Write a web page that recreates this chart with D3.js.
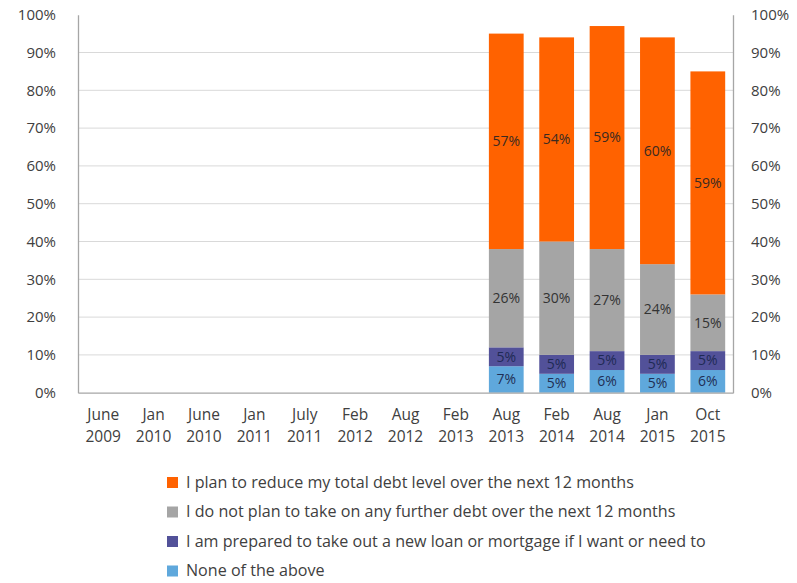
<!DOCTYPE html>
<html>
<head>
<meta charset="utf-8">
<script src="https://cdn.jsdelivr.net/npm/d3@7"></script>
<style>
  html, body { margin: 0; padding: 0; background: #fff; }
  svg text { font-family: "Open Sans", "Noto Sans", sans-serif; }
</style>
</head>
<body>
<svg id="chart" width="797" height="583"></svg>
<script>
// Survey waves (two-line axis labels)
const periods = [
  ["June", "2009"], ["Jan", "2010"], ["June", "2010"], ["Jan", "2011"],
  ["July", "2011"], ["Feb", "2012"], ["Aug", "2012"], ["Feb", "2013"],
  ["Aug", "2013"], ["Feb", "2014"], ["Aug", "2014"], ["Jan", "2015"], ["Oct", "2015"]
];

// Share of respondents (%) per answer; null where the wave has no data
const noneOfAbove   = [null, null, null, null, null, null, null, null, 7, 5, 6, 5, 6];
const preparedLoan  = [null, null, null, null, null, null, null, null, 5, 5, 5, 5, 5];
const noFurtherDebt = [null, null, null, null, null, null, null, null, 26, 30, 27, 24, 15];
const reduceDebt    = [null, null, null, null, null, null, null, null, 57, 54, 59, 60, 59];

const seriesNames = [
  "None of the above",
  "I am prepared to take out a new loan or mortgage if I want or need to",
  "I do not plan to take on any further debt over the next 12 months",
  "I plan to reduce my total debt level over the next 12 months"
];
const seriesColors = ["#5fa8dc", "#525199", "#a5a5a5", "#ff6200"];
const labelColors = ["#1f2f55", "#1f2a55", "#333333", "#3a2a20"];
const yTicks = [0, 10, 20, 30, 40, 50, 60, 70, 80, 90, 100];

const seriesValues = [noneOfAbove, preparedLoan, noFurtherDebt, reduceDebt];
const keys = seriesNames;
const rows = periods.map((p, i) => {
  const r = { key: p.join(" ") };
  keys.forEach((k, s) => { r[k] = seriesValues[s][i] || 0; });
  r.has = seriesValues[0][i] !== null;
  return r;
});

const svg = d3.select("#chart");
const plotLeft = 78, plotRight = 733, plotTop = 14.7, plotBottom = 392.7;

const x = d3.scaleBand().domain(rows.map(r => r.key)).range([plotLeft, plotRight]).paddingInner(0.31).paddingOuter(0.155);
const y = d3.scaleLinear().domain([0, 100]).range([plotBottom, plotTop]);

// gridlines
svg.append("g").selectAll("line").data(yTicks.filter(t => t > 0 && t < 100)).join("line")
  .attr("x1", plotLeft).attr("x2", plotRight)
  .attr("y1", d => y(d)).attr("y2", d => y(d))
  .attr("stroke", "#d9d9d9").attr("stroke-width", 1);

// stacked bars
const stacked = d3.stack().keys(keys)(rows);
const layers = svg.append("g").selectAll("g").data(stacked).join("g")
  .attr("fill", (d, i) => seriesColors[i]);
layers.selectAll("rect").data(d => d.filter(v => v.data.has)).join("rect")
  .attr("x", d => x(d.data.key))
  .attr("width", x.bandwidth())
  .attr("y", d => y(d[1]))
  .attr("height", d => y(d[0]) - y(d[1]));

// value labels
stacked.forEach((layer, i) => {
  svg.append("g").selectAll("text").data(layer.filter(v => v.data.has)).join("text")
    .attr("x", d => x(d.data.key) + x.bandwidth() / 2)
    .attr("y", d => (y(d[0]) + y(d[1])) / 2)
    .attr("dy", "0.35em")
    .attr("text-anchor", "middle")
    .attr("font-size", 14)
    .attr("fill", labelColors[i])
    .text(d => (d[1] - d[0]) + "%");
});

// axes
const fmt = d => d + "%";
const yl = svg.append("g").attr("transform", `translate(${plotLeft},0)`)
  .call(d3.axisLeft(y).tickValues(yTicks).tickFormat(fmt).tickSize(0).tickPadding(22));
const yr = svg.append("g").attr("transform", `translate(${plotRight},0)`)
  .call(d3.axisRight(y).tickValues(yTicks).tickFormat(fmt).tickSize(0).tickPadding(18));
[yl, yr].forEach(g => {
  g.select(".domain").attr("stroke", "#a6a6a6").attr("stroke-width", 1.3);
  g.selectAll("text").attr("font-size", 15).attr("fill", "#404040")
    .attr("font-family", "'Open Sans', 'Noto Sans', sans-serif");
});

const xa = svg.append("g").attr("transform", `translate(0,${plotBottom})`)
  .call(d3.axisBottom(x).tickSize(0).tickFormat(""));
xa.select(".domain").attr("stroke", "#a6a6a6").attr("stroke-width", 1.3);
xa.selectAll(".tick").each(function(d, i) {
  const t = d3.select(this).append("text")
    .attr("text-anchor", "middle").attr("font-size", 15.5).attr("fill", "#404040")
    .attr("font-family", "'Open Sans', 'Noto Sans', sans-serif");
  t.append("tspan").attr("x", 0).attr("y", 27).text(periods[i][0]);
  t.append("tspan").attr("x", 0).attr("y", 49).text(periods[i][1]);
});

// legend, top entry is the top of the stack
const legendOrder = [3, 2, 1, 0];
const lg = svg.append("g").attr("transform", "translate(167,482)");
legendOrder.forEach((s, j) => {
  const row = lg.append("g").attr("transform", `translate(0,${j * 29.5})`);
  row.append("rect").attr("x", 0).attr("y", -5).attr("width", 11).attr("height", 11).attr("fill", seriesColors[s]);
  row.append("text").attr("x", 19).attr("y", 0).attr("dy", "0.35em")
    .attr("font-size", 16.1).attr("fill", "#404040").text(seriesNames[s]);
});
</script>
</body>
</html>
